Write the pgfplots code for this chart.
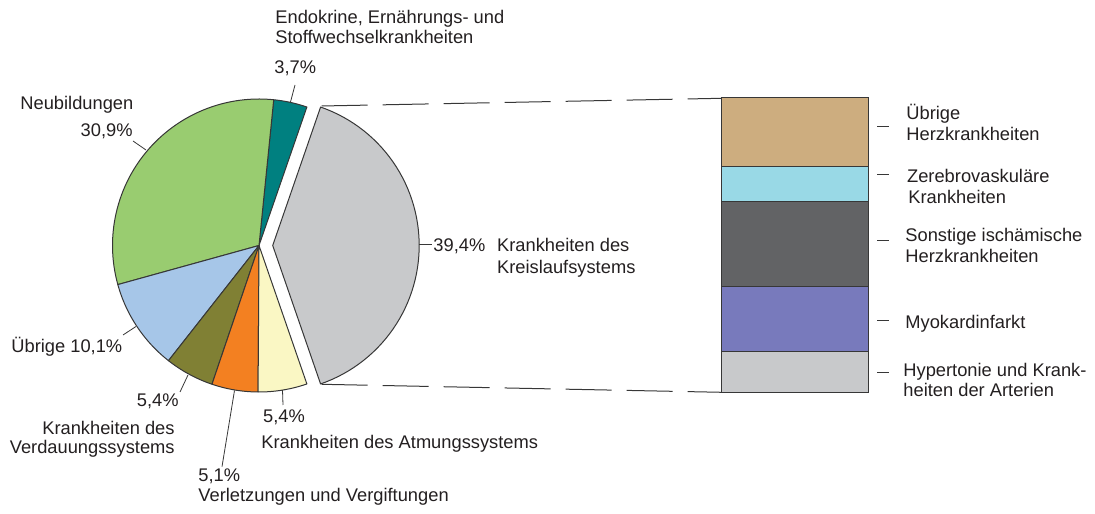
\documentclass[border=0pt]{standalone}
\usepackage{fontspec}
\setmainfont{Liberation Sans}
\usepackage{pgfplots}
\pgfplotsset{compat=1.18}

\definecolor{txt}{RGB}{35,31,32}
\definecolor{lin}{RGB}{55,55,55}
\definecolor{cKreis}{RGB}{200,201,203}
\definecolor{cEndo}{RGB}{0,128,128}
\definecolor{cNeu}{RGB}{153,204,112}
\definecolor{cUeb}{RGB}{166,198,232}
\definecolor{cVerd}{RGB}{128,128,52}
\definecolor{cVerl}{RGB}{243,128,33}
\definecolor{cAtm}{RGB}{250,247,196}
\definecolor{bUeb}{RGB}{205,173,127}
\definecolor{bZer}{RGB}{153,217,230}
\definecolor{bSon}{RGB}{98,99,101}
\definecolor{bMyo}{RGB}{120,122,188}
\definecolor{bHyp}{RGB}{200,201,203}

% shares of the pie (percent)
\def\vKreis{39.4}\def\vEndo{3.7}\def\vNeu{30.9}\def\vUeb{10.1}
\def\vVerd{5.4}\def\vVerl{5.1}\def\vAtm{5.4}
\pgfmathsetmacro\aKreis{-\vKreis*1.8}
\pgfmathsetmacro\aEndo{\aKreis+\vKreis*3.6}
\pgfmathsetmacro\aNeu{\aEndo+\vEndo*3.6}
\pgfmathsetmacro\aUeb{\aNeu+\vNeu*3.6}
\pgfmathsetmacro\aVerd{\aUeb+\vUeb*3.6}
\pgfmathsetmacro\aVerl{\aVerd+\vVerd*3.6}
\pgfmathsetmacro\aAtm{\aVerl+\vVerl*3.6}
\pgfmathsetmacro\aEnd{\aAtm+\vAtm*3.6}

\begin{document}
\begin{tikzpicture}[font=\fontsize{9.15}{10.25}\selectfont,
  lb/.style={inner sep=0pt, text=txt, anchor=base west},
  lbe/.style={inner sep=0pt, text=txt, anchor=base east},
  ld/.style={draw=lin, line width=0.4pt},
  mid/.style={inner sep=0pt, text height=6.5pt, text depth=0pt, anchor=center}]
\begin{axis}[width=547.5pt, height=256.5pt, scale only axis,
  xmin=0, xmax=1095, ymin=0, ymax=513, hide axis, clip=false,
  slice/.style={draw=lin, line width=0.5pt, line join=round, samples=60, mark=none}]
% exploded slice
\addplot[slice, fill=cKreis, domain=\aKreis:\aEndo] ({272.7+146.5*cos(x)},{267.5+146.5*sin(x)}) -- (axis cs:272.7,267.5) -- cycle;
\addplot[slice, fill=cEndo, domain=\aEndo:\aNeu] ({259+146.5*cos(x)},{267.5+146.5*sin(x)}) -- (axis cs:259,267.5) -- cycle;
\addplot[slice, fill=cNeu, domain=\aNeu:\aUeb] ({259+146.5*cos(x)},{267.5+146.5*sin(x)}) -- (axis cs:259,267.5) -- cycle;
\addplot[slice, fill=cUeb, domain=\aUeb:\aVerd] ({259+146.5*cos(x)},{267.5+146.5*sin(x)}) -- (axis cs:259,267.5) -- cycle;
\addplot[slice, fill=cVerd, domain=\aVerd:\aVerl] ({259+146.5*cos(x)},{267.5+146.5*sin(x)}) -- (axis cs:259,267.5) -- cycle;
\addplot[slice, fill=cVerl, domain=\aVerl:\aAtm] ({259+146.5*cos(x)},{267.5+146.5*sin(x)}) -- (axis cs:259,267.5) -- cycle;
\addplot[slice, fill=cAtm, domain=\aAtm:\aEnd] ({259+146.5*cos(x)},{267.5+146.5*sin(x)}) -- (axis cs:259,267.5) -- cycle;

% connecting dashed lines
\addplot[draw=lin, line width=0.5pt, dash pattern=on 23pt off 7.5pt, mark=none] coordinates {(321.7,407) (721.7,414.7)};
\addplot[draw=lin, line width=0.5pt, dash pattern=on 23pt off 7.5pt, mark=none] coordinates {(321.7,128.7) (721.7,120.7)};

% leader lines
\draw[ld] (axis cs:295,428) -- (axis cs:290.5,411);
\draw[ld] (axis cs:133,372) -- (axis cs:146,363);
\draw[ld] (axis cs:123,178) -- (axis cs:136,186.5);
\draw[ld] (axis cs:180,121) -- (axis cs:188,138);
\draw[ld] (axis cs:222,46.3) -- (axis cs:234.5,122.5);
\draw[ld] (axis cs:283,108) -- (axis cs:282.5,123);
\draw[ld] (axis cs:419,269) -- (axis cs:431.5,269);

% pie labels
\node[lb] at (axis cs:275,489) {Endokrine, Ernährungs- und};
\node[lb] at (axis cs:275,469) {Stoffwechselkrankheiten};
\node[lb] at (axis cs:274,439) {3,7\%};
\node[lb] at (axis cs:20,403) {Neubildungen};
\node[lbe] at (axis cs:133,376) {30,9\%};
\node[lb] at (axis cs:433,261.3) {39,4\%};
\node[lb] at (axis cs:496.7,261.3) {Krankheiten des};
\node[lb] at (axis cs:496.7,239) {Kreislaufsystems};
\node[lb] at (axis cs:11,160) {Übrige 10,1\%};
\node[lbe] at (axis cs:179,106) {5,4\%};
\node[lbe] at (axis cs:175,78) {Krankheiten des};
\node[lbe] at (axis cs:175,59) {Verdauungssystems};
\node[lb] at (axis cs:198,31.3) {5,1\%};
\node[lb] at (axis cs:198,11) {Verletzungen und Vergiftungen};
\node[lb] at (axis cs:262.7,90.3) {5,4\%};
\node[lb] at (axis cs:261,64) {Krankheiten des Atmungssystems};

% bar labels
\node[lb] at (axis cs:906,393) {Übrige};
\node[lb] at (axis cs:906,372) {Herzkrankheiten};
\node[lb] at (axis cs:906.7,330.7) {Zerebrovaskuläre};
\node[lb] at (axis cs:908,309.7) {Krankheiten};
\node[lb] at (axis cs:905,271.3) {Sonstige ischämische};
\node[lb] at (axis cs:905,250.7) {Herzkrankheiten};
\node[lb] at (axis cs:905,184.7) {Myokardinfarkt};
\node[lb] at (axis cs:903,136.3) {Hypertonie und Krank-};
\node[lb] at (axis cs:903,116.3) {heiten der Arterien};
\draw[ld] (axis cs:877,386.3) -- (axis cs:889,386.3);
\draw[ld] (axis cs:877,339) -- (axis cs:889,339);
\draw[ld] (axis cs:877,273) -- (axis cs:889,273);
\draw[ld] (axis cs:877,193) -- (axis cs:889,193);
\draw[ld] (axis cs:877,141) -- (axis cs:889,141);
\end{axis}

\begin{axis}[at={(360.5pt,60.25pt)}, anchor=south west,
  width=73.5pt, height=147.25pt, scale only axis,
  xmin=-0.5, xmax=0.5, ymin=0, ymax=100, hide axis, clip=false,
  ybar stacked, bar width=73.5pt, bar shift=0pt]
\addplot[fill=bHyp, draw=lin, line width=0.5pt] coordinates {(0,13.8)};
\addplot[fill=bMyo, draw=lin, line width=0.5pt] coordinates {(0,22.2)};
\addplot[fill=bSon, draw=lin, line width=0.5pt] coordinates {(0,28.7)};
\addplot[fill=bZer, draw=lin, line width=0.5pt] coordinates {(0,12.0)};
\addplot[fill=bUeb, draw=lin, line width=0.5pt] coordinates {(0,23.3)};
\node[mid, text=txt] at (axis cs:0.03,6.9) {13,8 \%};
\node[mid, text=txt] at (axis cs:0.03,24.9) {22,2 \%};
\node[mid, text=white] at (axis cs:0.03,50.35) {28,7 \%};
\node[mid, text=txt] at (axis cs:0.03,70.7) {12,0 \%};
\node[mid, text=txt] at (axis cs:0.03,88.35) {23,3 \%};
\end{axis}
\pgfresetboundingbox
\path (0,0) rectangle (547.5pt,256.5pt);
\end{tikzpicture}
\end{document}
